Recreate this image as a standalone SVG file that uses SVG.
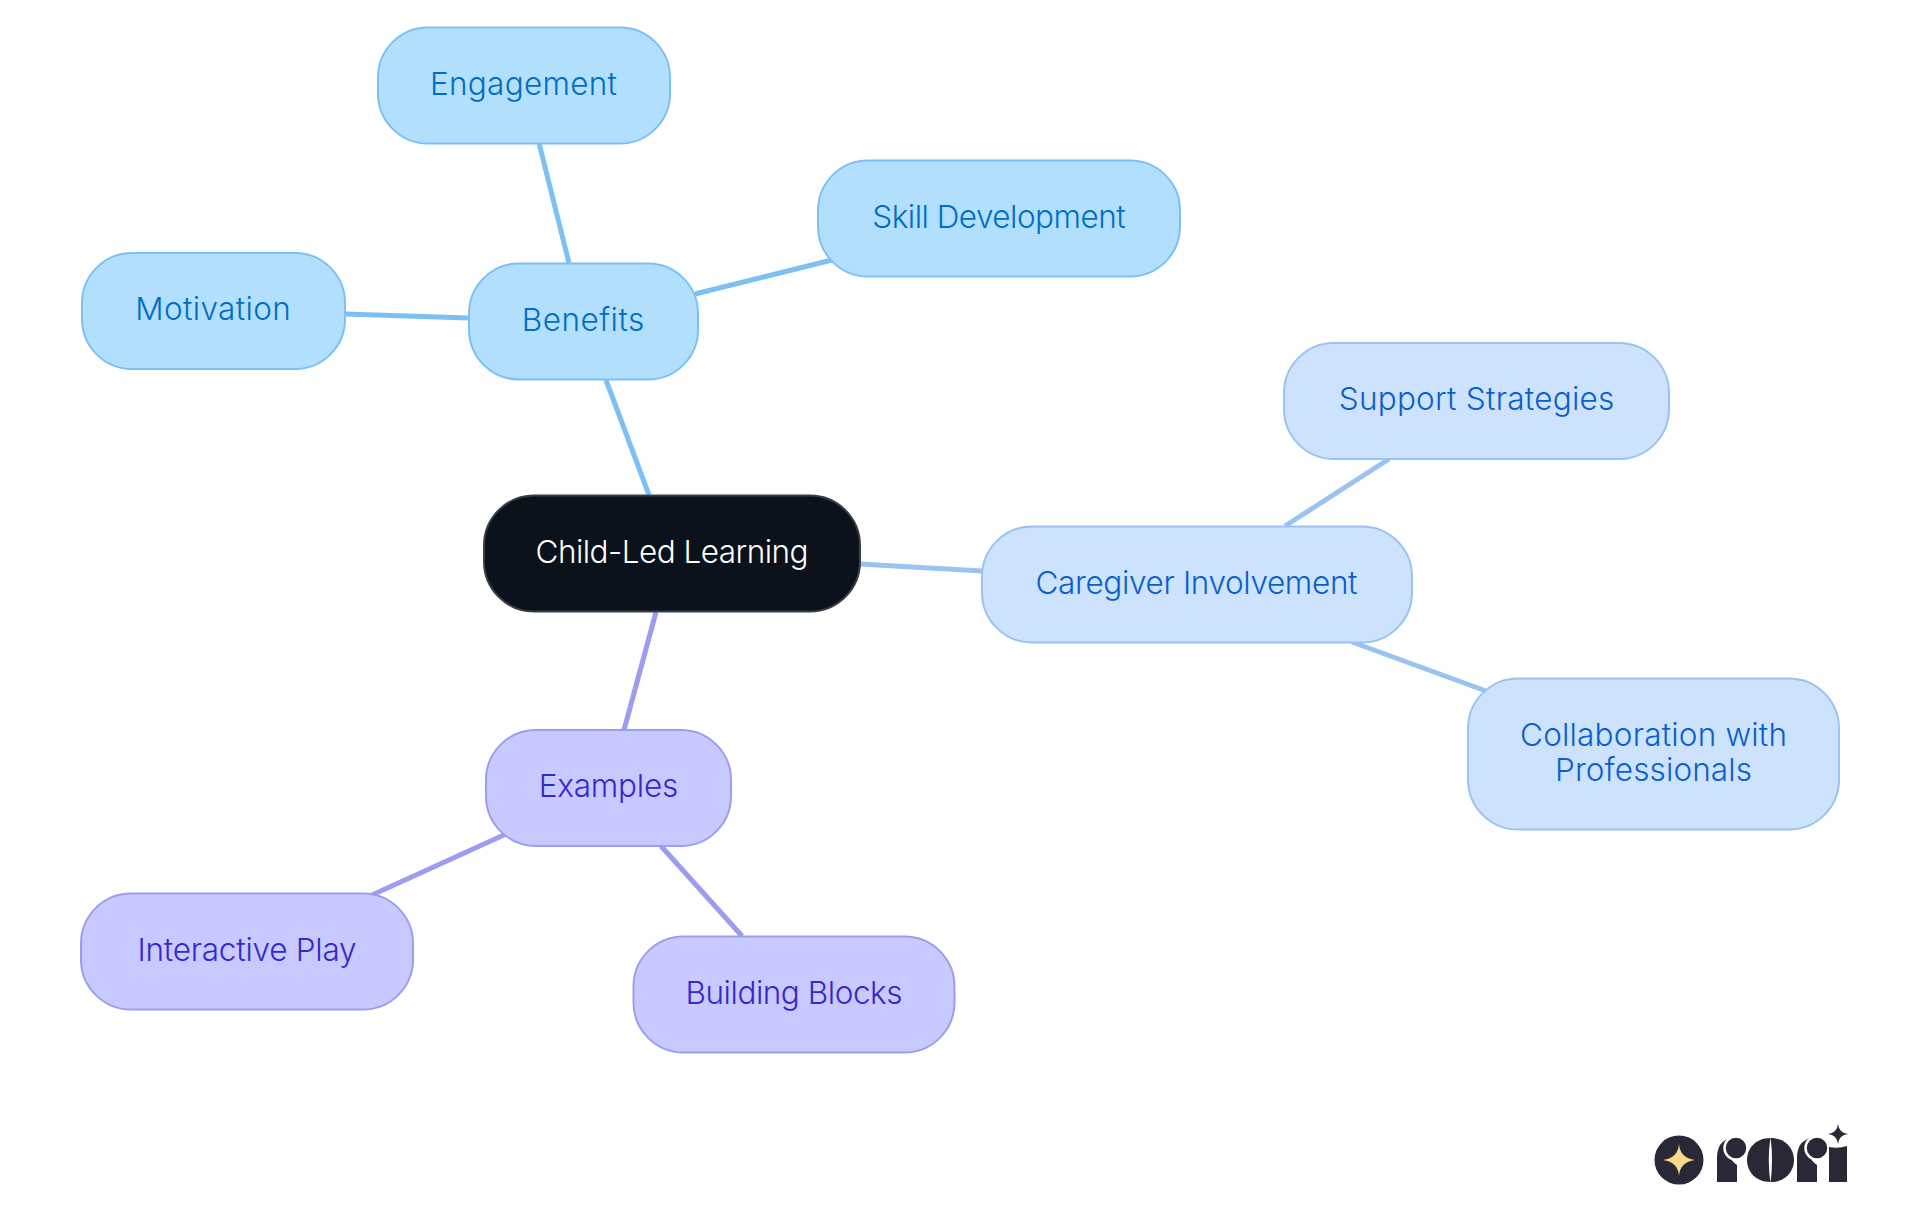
<svg xmlns="http://www.w3.org/2000/svg" width="1920" height="1215" viewBox="0 0 1920 1215">
<style>
text{font-family:"Inter","Noto Sans","Liberation Sans",sans-serif;font-size:31.5px;text-anchor:middle;font-weight:300}
.n{stroke-width:2}
.blue rect{fill:#b3dfff;stroke:#7dc0f3}
.blue text{fill:#006ec2}
.sky rect{fill:#cde3fd;stroke:#9ac3f0}
.sky text{fill:#0a60cc}
.vio rect{fill:#c8caff;stroke:#9c9df0}
.vio text{fill:#3628cc}
.root rect{fill:#0b121b;stroke:#3a3f46}
.root text{fill:#ffffff}
#connectors line{stroke-width:5;fill:none}
.lb{stroke:#7dc0f3}.ls{stroke:#9ac3f0}.lv{stroke:#9c9df0}
.logo{fill:#2a2837}
.ring{fill:#2a2837;stroke:#ffffff;stroke-width:2.500}
</style>
<rect width="1920" height="1215" fill="#ffffff"/>
<g id="connectors">
<line class="lb" x1="649" y1="495" x2="606" y2="380"/>
<line class="lb" x1="569" y1="263" x2="539" y2="143"/>
<line class="lb" x1="695" y1="294" x2="832" y2="260"/>
<line class="lb" x1="469" y1="318" x2="345" y2="314"/>
<line class="ls" x1="860" y1="564" x2="982" y2="571"/>
<line class="ls" x1="1285" y1="526" x2="1389" y2="459"/>
<line class="ls" x1="1352" y1="642" x2="1486" y2="691"/>
<line class="lv" x1="656" y1="612" x2="624" y2="730"/>
<line class="lv" x1="506" y1="834" x2="372" y2="895"/>
<line class="lv" x1="661" y1="846" x2="742" y2="936"/>
</g>
<g id="node-root" class="root n"><rect x="484" y="495.500" width="376" height="116" rx="50"/><text x="672" y="563" textLength="273">Child-Led Learning</text></g>
<g id="node-benefits" class="blue n"><rect x="469" y="263.500" width="229" height="116" rx="50"/><text x="583" y="331" textLength="122.500">Benefits</text></g>
<g id="node-engagement" class="blue n"><rect x="378" y="27.500" width="292" height="116" rx="50"/><text x="523.500" y="95" textLength="187">Engagement</text></g>
<g id="node-skill" class="blue n"><rect x="818" y="160.500" width="362" height="116" rx="50"/><text x="999" y="228" textLength="253.500">Skill Development</text></g>
<g id="node-motivation" class="blue n"><rect x="82" y="253" width="263" height="116" rx="50"/><text x="213" y="320" textLength="155.500">Motivation</text></g>
<g id="node-caregiver" class="sky n"><rect x="982" y="526.500" width="430" height="116" rx="50"/><text x="1196.500" y="594" textLength="322">Caregiver Involvement</text></g>
<g id="node-support" class="sky n"><rect x="1284" y="343" width="385" height="116" rx="50"/><text x="1476.500" y="410" textLength="275.500">Support Strategies</text></g>
<g id="node-collab" class="sky n"><rect x="1468" y="678.500" width="371" height="151" rx="50"/><text x="1653.500" y="746" textLength="267">Collaboration with</text><text x="1653.500" y="781" textLength="197">Professionals</text></g>
<g id="node-examples" class="vio n"><rect x="486" y="730" width="245" height="116" rx="50"/><text x="608.500" y="797" textLength="139.500">Examples</text></g>
<g id="node-interactive" class="vio n"><rect x="81" y="893.500" width="332" height="116" rx="50"/><text x="247" y="961" textLength="219">Interactive Play</text></g>
<g id="node-building" class="vio n"><rect x="633.500" y="936.500" width="321" height="116" rx="50"/><text x="794" y="1004" textLength="217">Building Blocks</text></g>
<g id="logo">
<circle class="logo" cx="1679" cy="1160" r="24.500"/>
<path fill="#fbd98a" d="M1679 1144Q1680 1158 1695 1160Q1680 1162 1679 1176Q1678 1162 1663 1160Q1678 1158 1679 1144Z"/>
<path class="logo" d="M1717 1182V1158Q1717 1141 1731 1138Q1726 1148 1729 1155Q1732 1162 1737 1165V1182Z"/>
<circle class="ring" cx="1736" cy="1148" r="11.500"/>
<path class="logo" d="M1770.500 1138C1786 1138 1794 1149 1794 1160C1794 1171 1786 1182 1770.500 1182C1755 1182 1747 1171 1747 1160C1747 1149 1755 1138 1770.500 1138Z"/>
<path fill="#ffffff" d="M1770.500 1137Q1767 1160 1770.500 1183Q1773.500 1160 1770.500 1137Z"/>
<path class="logo" d="M1797 1182V1158Q1797 1141 1811 1138Q1806 1148 1809 1155Q1812 1162 1817 1165V1182Z"/>
<circle class="ring" cx="1817" cy="1148" r="11.500"/>
<path class="logo" d="M1829 1182V1147Q1838 1149 1847 1146V1182Z"/>
<path class="logo" d="M1838 1124Q1839 1133 1848 1134Q1839 1135 1838 1144Q1837 1135 1828 1134Q1837 1133 1838 1124Z"/>
</g>
</svg>
